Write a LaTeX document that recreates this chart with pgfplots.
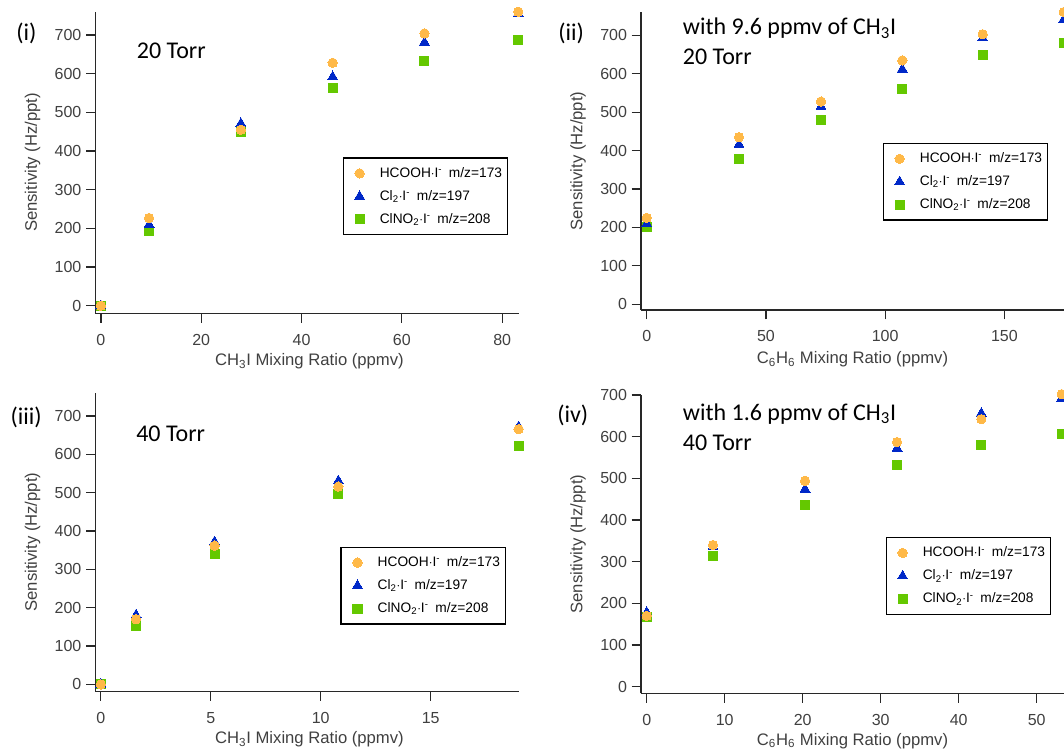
\documentclass[border=0pt]{standalone}
\usepackage{fontspec}
\setmainfont{Liberation Sans}
\newfontfamily\calibri{Carlito}
\usepackage{pgfplots}
\pgfplotsset{compat=1.18}
\definecolor{corange}{RGB}{255,185,72}
\definecolor{cblue}{RGB}{0,40,200}
\definecolor{cgreen}{RGB}{100,200,0}
\definecolor{axgray}{RGB}{40,40,40}
\definecolor{txtgray}{RGB}{64,64,64}

\pgfplotsset{
 panel/.style={
  scale only axis,
  axis lines*=left,
  axis line style={axgray, line width=1.1pt},
  tick align=outside,
  major tick length=7pt,
  tick style={axgray, line width=0.9pt},
  /pgf/number format/assume math mode=true,
  tick label style={font=\fontsize{12}{14}\selectfont, text=txtgray},
  xticklabel style={yshift=-5pt},
  label style={font=\fontsize{12.5}{15}\selectfont, text=txtgray},
  ylabel={Sensitivity (Hz/ppt)},
  ytick={0,100,...,700},
  clip=false,
  legend style={draw=black, line width=1pt, font=\fontsize{10.3}{12}\selectfont, anchor=north west, row sep=4.3pt, inner xsep=3pt, inner ysep=5pt,
    nodes={inner xsep=1pt}},
  legend image code/.code={\draw[#1] plot coordinates {(0.31cm,0cm)}; \path (0cm,0cm) (0.79cm,0cm);},
  legend cell align=left,
  reverse legend,
 },
 sHC/.style={only marks, color=corange, mark=*, mark size=3.5pt, mark options={solid, fill=corange, draw=corange, line width=0pt}},
 sCl/.style={only marks, color=cblue, mark=triangle*, mark size=4.3pt, mark options={solid, fill=cblue, draw=cblue, line width=0pt}},
 sNO/.style={only marks, color=cgreen, mark=square*, mark size=3.4pt, mark options={solid, fill=cgreen, draw=cgreen, line width=0pt}},
}
\newcommand{\legtxt}{\legend{ClNO\textsubscript{2}$\cdot$I\textsuperscript{-}\hspace{5pt}m/z=208, Cl\textsubscript{2}$\cdot$I\textsuperscript{-}\hspace{5pt}m/z=197, HCOOH$\cdot$I\textsuperscript{-}\hspace{5pt}m/z=173}}

\begin{document}
\begin{tikzpicture}
% ---------- (i)
\begin{axis}[panel, at={(71.55pt,-8.8pt)}, anchor=north west,
  width=317.9pt, height=226.2pt,
  xmin=-1.1, xmax=83.4, ymin=-19.6, ymax=760,
  xtick={0,20,...,80},
  xlabel={CH\textsubscript{3}I Mixing Ratio (ppmv)},
  xlabel style={at={(axis description cs:0.505,-0.16)}, anchor=center},
  ylabel style={at={(axis description cs:-0.148,0.5)}, anchor=center},
  legend style={at={(axis description cs:0.583,0.517)}}]
\addplot[sNO] coordinates {(0,0) (9.6,193) (27.9,449) (46.2,563) (64.5,633) (83.2,687)};
\addplot[sCl] coordinates {(0,0) (9.6,210) (27.9,471) (46.2,592) (64.5,681) (83.2,755)};
\addplot[sHC] coordinates {(0,0) (9.6,227) (27.9,455) (46.2,628) (64.5,704) (83.2,760)};
\legtxt
\end{axis}
% ---------- (ii)
\begin{axis}[panel, at={(480.75pt,-9pt)}, anchor=north west,
  width=317.25pt, height=223.5pt,
  xmin=-2.4, xmax=175, ymin=-15, ymax=761,
  xtick={0,50,100,150},
  xlabel={C\textsubscript{6}H\textsubscript{6} Mixing Ratio (ppmv)},
  xlabel style={at={(axis description cs:0.5,-0.165)}, anchor=center},
  ylabel style={at={(axis description cs:-0.149,0.5)}, anchor=center},
  legend style={at={(axis description cs:0.571,0.561)}}]
\addplot[sNO] coordinates {(0,202) (38.7,379) (73.1,479) (107.2,561) (140.9,650) (174.9,680)};
\addplot[sCl] coordinates {(0,210) (38.7,416) (73.1,515) (107.2,612) (140.9,693) (174.9,742)};
\addplot[sHC] coordinates {(0,225) (38.7,435) (73.1,528) (107.2,635) (140.9,703) (174.9,761)};
\legtxt
\end{axis}
% ---------- (iii)
\begin{axis}[panel, at={(71.55pt,-294.5pt)}, anchor=north west,
  width=317.9pt, height=224.25pt,
  xmin=-0.25, xmax=19.03, ymin=-19, ymax=761,
  xtick={0,5,10,15},
  xlabel={CH\textsubscript{3}I Mixing Ratio (ppmv)},
  xlabel style={at={(axis description cs:0.505,-0.16)}, anchor=center},
  ylabel style={at={(axis description cs:-0.148,0.5)}, anchor=center},
  legend style={at={(axis description cs:0.578,0.485)}}]
\addplot[sNO] coordinates {(0,0) (1.6,153) (5.17,339) (10.8,496) (19.0,623)};
\addplot[sCl] coordinates {(0,0) (1.6,181) (5.17,372) (10.8,531) (19.0,672)};
\addplot[sHC] coordinates {(0,0) (1.6,170) (5.17,362) (10.8,516) (19.0,666)};
\legtxt
\end{axis}
% ---------- (iv)
\begin{axis}[panel, at={(480.75pt,-296.25pt)}, anchor=north west,
  width=317.25pt, height=223.7pt,
  xmin=-0.73, xmax=53.5, ymin=-16, ymax=700,
  xtick={0,10,...,50},
  xlabel={C\textsubscript{6}H\textsubscript{6} Mixing Ratio (ppmv)},
  xlabel style={at={(axis description cs:0.5,-0.16)}, anchor=center},
  ylabel style={at={(axis description cs:-0.149,0.5)}, anchor=center},
  legend style={at={(axis description cs:0.578,0.524)}}]
\addplot[sNO] coordinates {(0,166) (8.5,314) (20.3,435) (32.1,532) (42.9,580) (53.2,606)};
\addplot[sCl] coordinates {(0,178) (8.5,336) (20.3,474) (32.1,572) (42.9,656) (53.2,692)};
\addplot[sHC] coordinates {(0,170) (8.5,340) (20.3,494) (32.1,587) (42.9,642) (53.2,702)};
\legtxt
\end{axis}
% ---------- annotations
\begin{scope}[every node/.style={anchor=base west, inner sep=0pt, font=\calibri\fontsize{18}{22}\selectfont}]
\node at (12pt,-30.75pt) {(i)};
\node at (418.5pt,-30.75pt) {(ii)};
\node at (7.7pt,-318pt) {(iii)};
\node at (417.75pt,-316.5pt) {(iv)};
\node at (102.5pt,-44.25pt) {20 Torr};
\node at (512pt,-26.25pt) {with 9.6 ppmv of CH\textsubscript{3}I};
\node at (512pt,-48.75pt) {20 Torr};
\node at (102pt,-330.75pt) {40 Torr};
\node at (512pt,-315pt) {with 1.6 ppmv of CH\textsubscript{3}I};
\node at (512pt,-338pt) {40 Torr};
\end{scope}
\pgfresetboundingbox
\useasboundingbox (0,0) rectangle (798pt,-564pt);
\end{tikzpicture}
\end{document}
